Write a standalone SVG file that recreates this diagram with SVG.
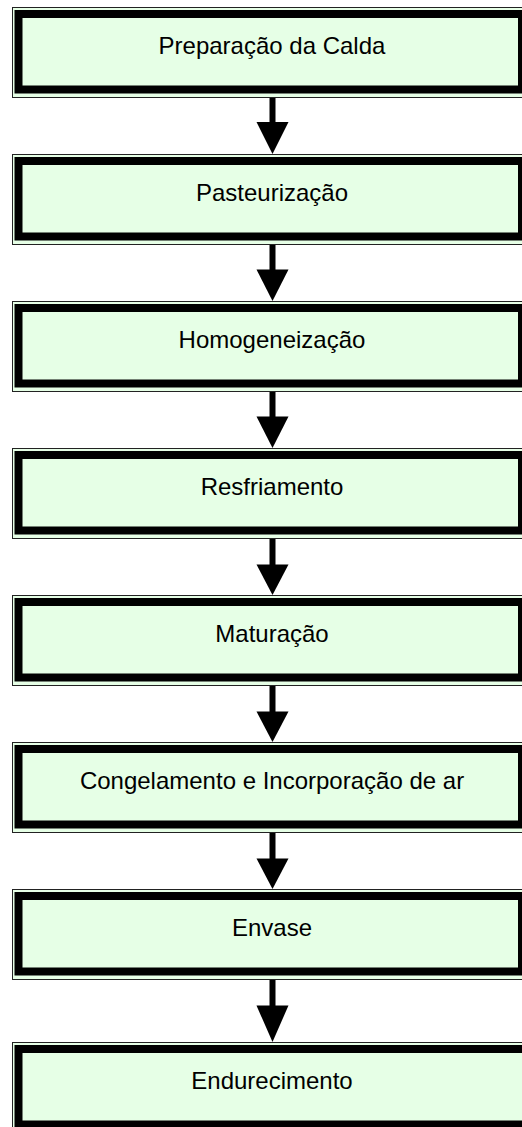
<svg xmlns="http://www.w3.org/2000/svg" width="522" height="1127" viewBox="0 0 522 1127">
<style>
.outer{fill:#E6FFE6;stroke:#222;stroke-width:1}
.thick{fill:#E6FFE6;stroke:#000;stroke-width:8}
.lbl{font-family:"Liberation Sans",Arial,sans-serif;font-size:24px;fill:#000;text-anchor:middle}
.arr{fill:#000}
</style>
<rect width="522" height="1127" fill="#fff"/>
<g id="connectors">
<rect class="arr" x="269.5" y="97" width="6" height="26"/><polygon class="arr" points="256.5,122 288.5,122 272.5,154"/>
<rect class="arr" x="269.5" y="244" width="6" height="26"/><polygon class="arr" points="256.5,269.5 288.5,269.5 272.5,301"/>
<rect class="arr" x="269.5" y="391" width="6" height="26"/><polygon class="arr" points="256.5,416.5 288.5,416.5 272.5,448"/>
<rect class="arr" x="269.5" y="539" width="6" height="26"/><polygon class="arr" points="256.5,564.5 288.5,564.5 272.5,595"/>
<rect class="arr" x="269.5" y="686" width="6" height="26"/><polygon class="arr" points="256.5,711.5 288.5,711.5 272.5,742"/>
<rect class="arr" x="269.5" y="833" width="6" height="26"/><polygon class="arr" points="256.5,858.5 288.5,858.5 272.5,889"/>
<rect class="arr" x="269.5" y="980" width="6" height="26"/><polygon class="arr" points="256.5,1005.5 288.5,1005.5 272.5,1042"/>
</g>
<g id="n1"><rect class="outer" x="12.5" y="7.5" width="520" height="90"/><rect class="thick" x="18.5" y="14" width="503.5" height="75.5"/><text class="lbl" x="272" y="54">Preparação da Calda</text></g>
<g id="n2"><rect class="outer" x="12.5" y="154.5" width="520" height="90"/><rect class="thick" x="18.5" y="161" width="503.5" height="75.5"/><text class="lbl" x="272" y="201">Pasteurização</text></g>
<g id="n3"><rect class="outer" x="12.5" y="301.5" width="520" height="90"/><rect class="thick" x="18.5" y="308" width="503.5" height="75.5"/><text class="lbl" x="272" y="348">Homogeneização</text></g>
<g id="n4"><rect class="outer" x="12.5" y="448.5" width="520" height="90"/><rect class="thick" x="18.5" y="455" width="503.5" height="75.5"/><text class="lbl" x="272" y="495">Resfriamento</text></g>
<g id="n5"><rect class="outer" x="12.5" y="595.5" width="520" height="90"/><rect class="thick" x="18.5" y="602" width="503.5" height="75.5"/><text class="lbl" x="272" y="642">Maturação</text></g>
<g id="n6"><rect class="outer" x="12.5" y="742.5" width="520" height="90"/><rect class="thick" x="18.5" y="749" width="503.5" height="75.5"/><text class="lbl" x="272" y="789">Congelamento e Incorporação de ar</text></g>
<g id="n7"><rect class="outer" x="12.5" y="889.5" width="520" height="90"/><rect class="thick" x="18.5" y="896" width="503.5" height="75.5"/><text class="lbl" x="272" y="936">Envase</text></g>
<g id="n8"><rect class="outer" x="12.5" y="1042.5" width="540" height="90"/><rect class="thick" x="18.5" y="1049" width="530" height="75.5"/><text class="lbl" x="272" y="1089">Endurecimento</text></g>
</svg>
